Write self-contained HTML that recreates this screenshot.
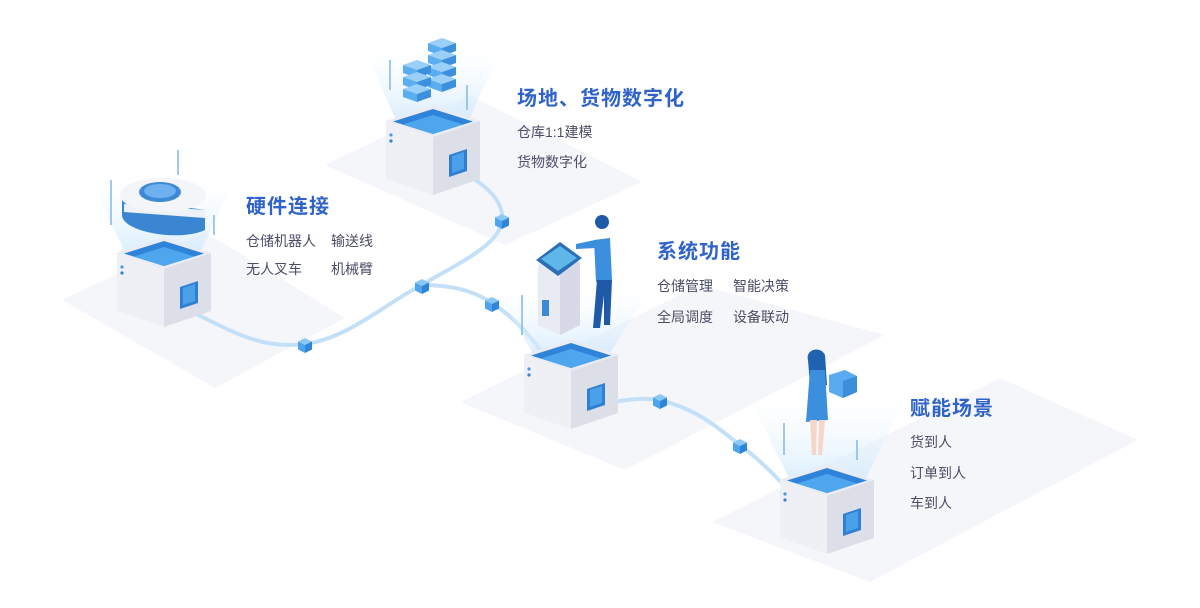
<!DOCTYPE html>
<html><head><meta charset="utf-8"><style>
html,body{margin:0;padding:0;background:#fff;}
body{width:1200px;height:608px;position:relative;overflow:hidden;font-family:"Liberation Sans","Noto Sans CJK SC",sans-serif;}
svg{position:absolute;left:0;top:0;}
.t{position:absolute;color:#2f63c9;font-size:20px;font-weight:bold;letter-spacing:1px;white-space:nowrap;}
.s{position:absolute;color:#4b4d66;font-size:14px;white-space:nowrap;}
</style></head><body>
<svg width="1200" height="608" viewBox="0 0 1200 608">
<defs>
<linearGradient id="beam" x1="0" y1="1" x2="0" y2="0">
<stop offset="0" stop-color="#cfe9fb" stop-opacity="0.75"/><stop offset="1" stop-color="#eef7fd" stop-opacity="0"/></linearGradient>
<g id="box">
<path d="M-47,16 L0,32 L0,90 L-47,74Z" fill="#eff0f6"/>
<path d="M0,32 L47,16 L47,74 L0,90Z" fill="#dcdee8"/>
<path d="M0,0 L47,16 L0,32 L-47,16Z" fill="#e9ecf4"/>
<path d="M0,4 L40,16.5 L0,29 L-40,16.5Z" fill="#2f83d8"/>
<path d="M0,10 L30,19.5 L0,29 L-30,19.5Z" fill="#4ea6ef"/>
<path d="M16,50 L34,44 L34,66 L16,72Z" fill="#2f7fd4"/>
<path d="M19,51 L31,47 L31,64 L19,68Z" fill="#4aa1ea"/>
<circle cx="-42" cy="30" r="1.6" fill="#4a9be6"/><circle cx="-42" cy="36" r="1.6" fill="#3a80c8"/>
</g>
<g id="cube">
<path d="M0,-7 L7,-3.5 L0,0 L-7,-3.5Z" fill="#8cc8f6"/>
<path d="M-7,-3.5 L0,0 L0,8 L-7,4.5Z" fill="#4ea5ee"/>
<path d="M0,0 L7,-3.5 L7,4.5 L0,8Z" fill="#2f86d8"/>
</g>
<g id="srv">
<path d="M0,-8 L14,-3 L0,2 L-14,-3Z" fill="#9ad0f8"/>
<path d="M-14,-3 L0,2 L0,10 L-14,5Z" fill="#5aaef0"/>
<path d="M0,2 L14,-3 L14,5 L0,10Z" fill="#3c90de"/>
</g>
</defs>
<path d="M62,300 L205,232 L345,318 L215,388Z" fill="#f5f6fa"/>
<path d="M325,165 L470,95 L642,182 L505,245Z" fill="#f5f6fa"/>
<path d="M460,402 L700,285 L885,335 L625,470Z" fill="#f5f6fa"/>
<path d="M712,522 L1000,378 L1138,440 L870,582Z" fill="#f5f6fa"/>
<g fill="none" stroke="#c4e0f8" stroke-width="4" stroke-linecap="round">
<path d="M188,310 C230,330 260,350 305,344 C350,338 390,300 422,285 C460,262 500,245 502,220 C505,195 470,175 452,167"/>
<path d="M422,285 C460,285 480,295 492,303 C515,318 535,340 548,362"/>
<path d="M596,406 C620,400 640,397 660,400 C700,410 720,430 740,445 C760,460 775,475 790,492"/>
</g>
<path d="M125,252 L200,252 L235,180 L90,180Z" fill="url(#beam)"/>
<path d="M395,118 L470,118 L500,50 L365,50Z" fill="url(#beam)"/>
<path d="M533,353 L610,353 L650,290 L495,290Z" fill="url(#beam)"/>
<path d="M790,480 L865,480 L905,400 L750,400Z" fill="url(#beam)"/>
<g stroke="#7fb8ee" stroke-width="1.5">
<line x1="111" y1="180" x2="111" y2="225"/><line x1="178" y1="150" x2="178" y2="175"/><line x1="214" y1="215" x2="214" y2="235"/>
<line x1="390" y1="60" x2="390" y2="90"/><line x1="467" y1="85" x2="467" y2="110"/>
<line x1="522" y1="295" x2="522" y2="335"/>
<line x1="784" y1="423" x2="784" y2="455"/><line x1="857" y1="440" x2="857" y2="460"/>
</g>
<use href="#box" transform="translate(164,237)"/>
<use href="#box" transform="translate(433,105)"/>
<use href="#box" transform="translate(571,339)"/>
<use href="#box" transform="translate(827,464)"/>
<use href="#cube" transform="translate(305,345)"/>
<use href="#cube" transform="translate(422,286)"/>
<use href="#cube" transform="translate(502,221)"/>
<use href="#cube" transform="translate(492,304)"/>
<use href="#cube" transform="translate(660,401)"/>
<use href="#cube" transform="translate(740,446)"/>
<!-- robot -->
<path d="M122,198 L122,215 C122,232 180,242 205,230 L205,210Z" fill="#3b86d2"/>
<path d="M124,204 L205,210 L205,218 L124,212Z" fill="#eef1f7"/>
<ellipse cx="163" cy="195" rx="43" ry="17" fill="#f4f5f9"/>
<ellipse cx="160" cy="192" rx="21" ry="10" fill="#3f8ad6"/>
<ellipse cx="160" cy="191" rx="16" ry="7" fill="#6eb1ee"/>
<!-- servers -->
<use href="#srv" transform="translate(442,46)"/><use href="#srv" transform="translate(442,58)"/><use href="#srv" transform="translate(442,70)"/><use href="#srv" transform="translate(442,82)"/>
<use href="#srv" transform="translate(417,68)"/><use href="#srv" transform="translate(417,80)"/><use href="#srv" transform="translate(417,92)"/>
<!-- kiosk -->
<path d="M538,265 L560,255 L580,262 L580,325 L560,335 L538,325Z" fill="#e9ebf3"/>
<path d="M560,262 L580,262 L580,325 L560,335Z" fill="#d7dae6"/>
<path d="M536,260 L560,242 L582,258 L558,276Z" fill="#2a6fb8"/>
<path d="M541,259 L560,246 L577,258 L558,271Z" fill="#5fb6e8"/>
<rect x="542" y="300" width="7" height="16" fill="#3a8ad6"/>
<!-- man -->
<circle cx="602" cy="222" r="7" fill="#1f5aa8"/>
<path d="M594,240 L610,238 L612,280 L596,282Z" fill="#3b8fdc"/>
<path d="M595,240 L576,244 L576,249 L596,248Z" fill="#3b8fdc"/>
<path d="M597,280 L612,280 L610,325 L604,325 L604,295 L600,328 L593,328Z" fill="#1f5aa8"/>
<!-- woman -->
<path d="M808,360 C805,350 820,345 825,355 L827,385 L810,385Z" fill="#1f62b0"/>
<path d="M810,370 L825,370 L828,420 L806,422Z" fill="#3b8fdc"/>
<path d="M810,420 L817,420 L816,455 L812,455Z M819,420 L825,420 L822,455 L818,455Z" fill="#f6d6c8"/>
<path d="M829,375 L845,370 L857,376 L857,392 L843,398 L829,392Z" fill="#5aaaf0"/>
<path d="M843,381 L857,376 L857,392 L843,398Z" fill="#3c8ddc"/>
</svg>
<div class="t" style="left:246px;top:190px">硬件连接</div>
<div class="s" style="left:246px;top:231px">仓储机器人</div><div class="s" style="left:331px;top:231px">输送线</div>
<div class="s" style="left:246px;top:259px">无人叉车</div><div class="s" style="left:331px;top:259px">机械臂</div>
<div class="t" style="left:517px;top:82px">场地、货物数字化</div>
<div class="s" style="left:517px;top:122px">仓库1:1建模</div>
<div class="s" style="left:517px;top:152px">货物数字化</div>
<div class="t" style="left:657px;top:235px">系统功能</div>
<div class="s" style="left:657px;top:276px">仓储管理</div><div class="s" style="left:733px;top:276px">智能决策</div>
<div class="s" style="left:657px;top:307px">全局调度</div><div class="s" style="left:733px;top:307px">设备联动</div>
<div class="t" style="left:910px;top:392px">赋能场景</div>
<div class="s" style="left:910px;top:432px">货到人</div>
<div class="s" style="left:910px;top:463px">订单到人</div>
<div class="s" style="left:910px;top:493px">车到人</div>
</body></html>
